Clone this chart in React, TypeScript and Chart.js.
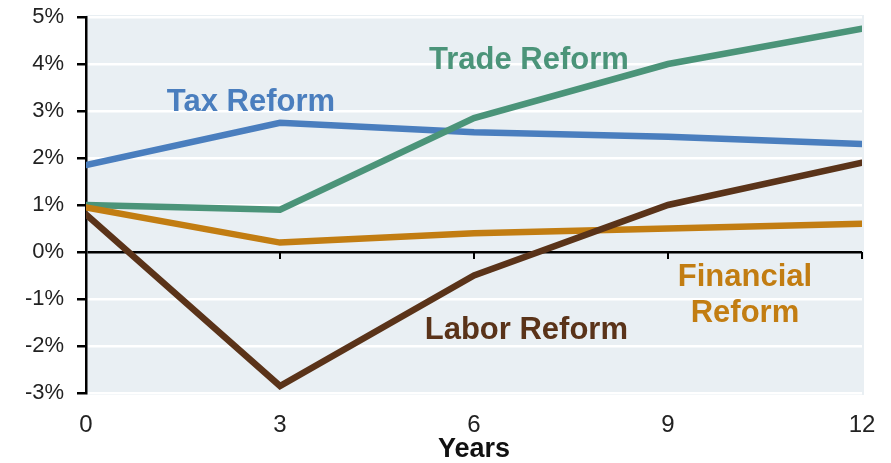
import React, { useEffect, useRef } from "react";
import { Chart, registerables } from "chart.js";

Chart.register(...registerables);

const years = [0, 3, 6, 9, 12];
const taxReform = [1.85, 2.75, 2.55, 2.45, 2.3];
const tradeReform = [1.0, 0.9, 2.85, 4.0, 4.75];
const laborReform = [0.8, -2.85, -0.5, 1.0, 1.9];
const financialReform = [0.95, 0.2, 0.4, 0.5, 0.6];

const seriesNames = ["Tax Reform", "Trade Reform", "Labor Reform", "Financial Reform"];
const seriesColors = ["#4a7ebe", "#4b9479", "#5a3319", "#c27d12"];

// annotation labels: [text lines, x (years), y (%)]
const labelTexts = [["Tax Reform"], ["Trade Reform"], ["Labor Reform"], ["Financial", "Reform"]];
const labelX = [2.55, 6.85, 6.81, 10.19];
const labelY = [3.18, 4.08, -1.66, -0.92];

const yMin = -3;
const yMax = 5;
const xTicks = [0, 3, 6, 9, 12];

const FONT = "'Liberation Sans', Arial, sans-serif";

const decorPlugin = {
  id: "decor",
  beforeDraw(chart: any) {
    const { ctx, chartArea } = chart;
    ctx.save();
    ctx.fillStyle = "#e9eff3";
    ctx.fillRect(chartArea.left, chartArea.top - 2, chartArea.right - chartArea.left + 2, chartArea.bottom - chartArea.top + 4);
    ctx.restore();
  },
  afterDatasetsDraw(chart: any) {
    const { ctx, scales } = chart;
    const xs = scales.x;
    const ys = scales.y;
    ctx.save();
    const y0 = ys.getPixelForValue(0);
    ctx.strokeStyle = "#000";
    ctx.lineWidth = 2;
    xTicks.forEach((t) => {
      if (t === 0) return;
      const px = Math.round(xs.getPixelForValue(t));
      ctx.beginPath();
      ctx.moveTo(px, y0);
      ctx.lineTo(px, y0 + 7);
      ctx.stroke();
    });
    ctx.font = `bold 31px ${FONT}`;
    ctx.textAlign = "center";
    ctx.textBaseline = "middle";
    labelTexts.forEach((lines, i) => {
      ctx.fillStyle = seriesColors[i];
      const cx = xs.getPixelForValue(labelX[i]);
      const cy = ys.getPixelForValue(labelY[i]);
      const lh = 36;
      const startY = cy - ((lines.length - 1) * lh) / 2;
      lines.forEach((ln, j) => {
        ctx.fillText(ln, cx, startY + j * lh);
      });
    });
    ctx.restore();
  },
};

export default function App() {
  const ref = useRef<HTMLCanvasElement>(null);
  useEffect(() => {
    if (!ref.current) return;
    const allSeries = [taxReform, tradeReform, laborReform, financialReform];
    const datasets = [2, 3, 1, 0].map((i) => ({
      label: seriesNames[i],
      data: years.map((x, k) => ({ x, y: allSeries[i][k] })),
      borderColor: seriesColors[i],
      backgroundColor: seriesColors[i],
      borderWidth: 6.5,
      borderCapStyle: "round" as const,
      pointRadius: 0,
      tension: 0,
    }));
    const chart = new Chart(ref.current, {
      type: "line",
      data: { datasets },
      options: {
        animation: false,
        responsive: false,
        maintainAspectRatio: false,
        layout: { autoPadding: false, padding: { left: 0, right: 29, top: 17, bottom: 0 } },
        plugins: { legend: { display: false }, tooltip: { enabled: false } },
        scales: {
          x: {
            type: "linear",
            min: 0,
            max: 12,
            afterBuildTicks: (s: any) => {
              s.ticks = xTicks.map((v) => ({ value: v }));
            },
            afterFit: (s: any) => {
              s.height = 70;
              s.paddingLeft = 0;
              s.paddingRight = 0;
            },
            grid: { display: false, drawTicks: false },
            border: { display: false },
            ticks: {
              color: "#222",
              font: { family: FONT, size: 24 },
              padding: 18,
              maxRotation: 0,
            },
            title: {
              display: true,
              text: "Years",
              color: "#111",
              font: { family: FONT, size: 27, weight: "bold", lineHeight: 1 },
              padding: { top: 0, bottom: 0 },
            },
          },
          y: {
            min: yMin,
            max: yMax,
            afterFit: (s: any) => {
              s.width = 86;
              s.paddingTop = 0;
              s.paddingBottom = 0;
            },
            ticks: {
              stepSize: 1,
              color: "#222",
              font: { family: FONT, size: 22 },
              padding: 13,
              callback: (v: any) => `${v}%`,
            },
            grid: {
              color: (c: any) => (c.tick && c.tick.value === 0 ? "#000" : "#ffffff"),
              lineWidth: 2.5,
              tickColor: "#000",
              tickLength: 9,
            },
            border: { display: true, color: "#000", width: 2.5 },
          },
        },
      },
      plugins: [decorPlugin],
    });
    return () => chart.destroy();
  }, []);
  return (
    <div style={{ position: "fixed", left: 0, top: 0, width: 891, height: 463, background: "#fff" }}>
      <canvas ref={ref} width={891} height={463} style={{ width: 891, height: 463, display: "block" }} />
    </div>
  );
}
